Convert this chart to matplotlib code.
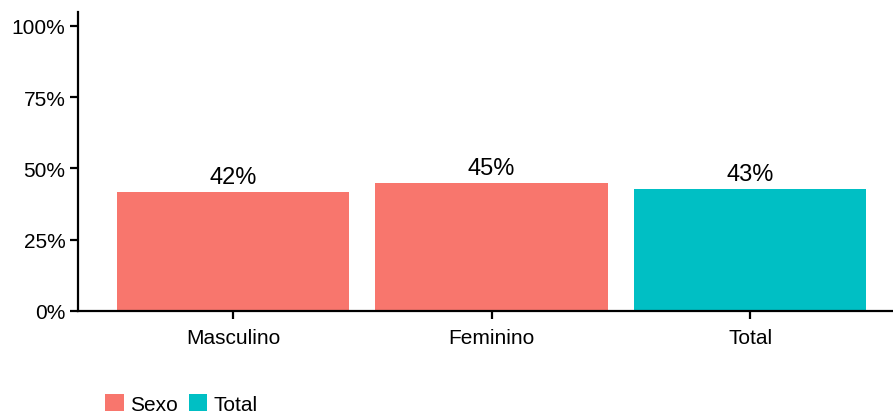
import matplotlib
matplotlib.use("Agg")
import matplotlib.pyplot as plt
from matplotlib.patches import Patch

categories = ["Masculino", "Feminino", "Total"]
values = [0.418, 0.449, 0.428]
labels = ["42%", "45%", "43%"]
groups = ["Sexo", "Sexo", "Total"]
group_colors = {"Sexo": "#F8766D", "Total": "#00BFC4"}
yticks = [0, 0.25, 0.5, 0.75, 1.0]
yticklabels = ["0%", "25%", "50%", "75%", "100%"]

plt.rcParams['font.family'] = ['Liberation Sans', 'DejaVu Sans']

W, H = 893, 414
fig = plt.figure(figsize=(W / 100, H / 100), dpi=100)
left, right = 78, 78 + 3.2 * 258.5
bottom, top = 312, 13
ax = fig.add_axes([left / W, 1 - bottom / H, (right - left) / W, (bottom - top) / H])

x = list(range(1, len(categories) + 1))
ax.bar(x, values, width=0.9, color=[group_colors[g] for g in groups])
for xi, v, lab in zip(x, values, labels):
    ax.text(xi, v + 0.012, lab, ha="center", va="bottom", fontsize=17, color="black")

ax.set_xlim(0.4, 3.6)
ax.set_ylim(0, (312 - 13) / 285.3)
ax.set_xticks(x)
ax.set_xticklabels(categories, fontsize=15, color="black")
ax.set_yticks(yticks)
ax.set_yticklabels(yticklabels, fontsize=15, color="black")
for s in ["top", "right"]:
    ax.spines[s].set_visible(False)
for s in ["left", "bottom"]:
    ax.spines[s].set_linewidth(1.6)
    ax.spines[s].set_color("black")
ax.tick_params(axis="both", length=6, width=1.6, color="black", pad=3)
ax.tick_params(axis="x", pad=6)

handles = [Patch(facecolor=group_colors[g], edgecolor="none") for g in ["Sexo", "Total"]]
fig.legend(handles, ["Sexo", "Total"], loc="lower left", bbox_to_anchor=(97 / W, -0.022),
           ncol=2, frameon=False, fontsize=15, handlelength=0.9, handleheight=0.9,
           handletextpad=0.3, columnspacing=0.5, borderaxespad=0)

fig.savefig("out.png", dpi=100)
